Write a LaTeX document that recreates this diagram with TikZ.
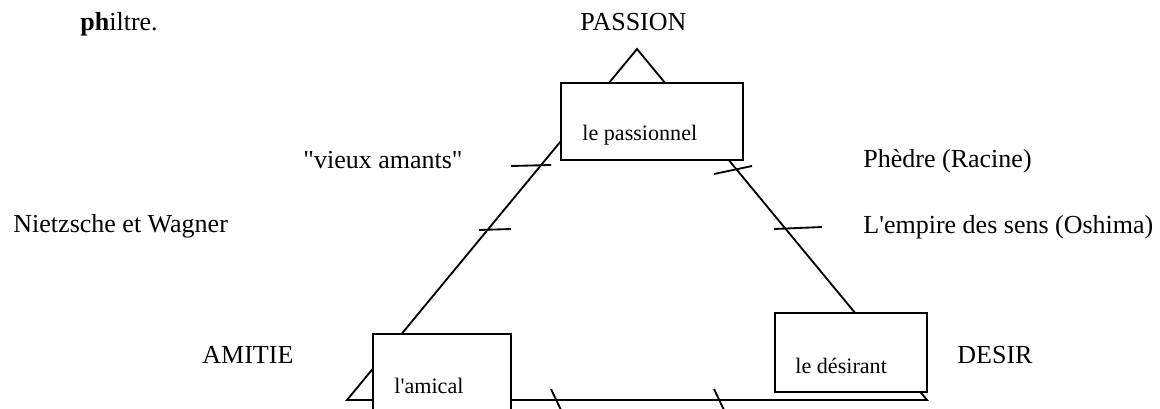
\documentclass[tikz,border=0pt]{standalone}
\usepackage{fontspec}
\setmainfont{Liberation Serif}
\tikzset{trait/.style={line width=0.85pt},
  boite/.style={draw, fill=white, line width=0.85pt, inner sep=0pt},
  grand/.style={anchor=base west, inner sep=0pt, font=\fontsize{12}{14}\selectfont},
  petit/.style={anchor=base west, inner sep=0pt, font=\fontsize{10.2}{12}\selectfont}}

\begin{document}
\begin{tikzpicture}[x=0.4615pt, y=-0.4615pt]
      \clip (0,0) rectangle (1160,408);

      \coordinate (passion) at (637, 49);
      \coordinate (amitie) at (347, 400);
      \coordinate (desir) at (927, 400);
      \draw [trait] (passion) -- (amitie) -- (desir) -- cycle;

      \node [boite, minimum width=84pt, minimum height=35.5pt] (passionnel) at (652, 121.5) {};
      \node [boite, minimum width=70.1pt, minimum height=36.5pt] (desirant) at (851, 352.5) {};
      \node [boite, minimum width=63.7pt, minimum height=36.9pt] (amical) at (442, 374) {};

      \draw [trait] (511, 166) -- (551, 165);
      \draw [trait] (479, 230) -- (511, 229);
      \draw [trait] (714, 174) -- (752, 166);
      \draw [trait] (774, 229) -- (822, 227);
      \draw [trait] (551, 389) -- (561, 410);
      \draw [trait] (714, 389) -- (724, 410);

      \node [petit] (t-passionnel) at (582, 140) {le passionnel};
      \node [petit] (t-desirant) at (795, 373) {le désirant};
      \node [petit] (t-amical) at (394, 393) {l\textquotesingle amical};

      \node [grand] (philtre) at (80, 30) {\textbf{ph}iltre.};
      \node [grand] (l-passion) at (580, 30) {PASSION};
      \node [grand] (l-amitie) at (202, 363) {AMITIE};
      \node [grand] (l-desir) at (957, 363) {DESIR};
      \node [grand] (vieux) at (303, 168) {\textquotedbl vieux amants\textquotedbl};
      \node [grand] (phedre) at (863, 167) {Phèdre (Racine)};
      \node [grand] (nietzsche) at (13, 232) {Nietzsche et Wagner};
      \node [grand] (empire) at (863, 233) {L\textquotesingle empire des sens (Oshima)};
    \end{tikzpicture}
\end{document}
